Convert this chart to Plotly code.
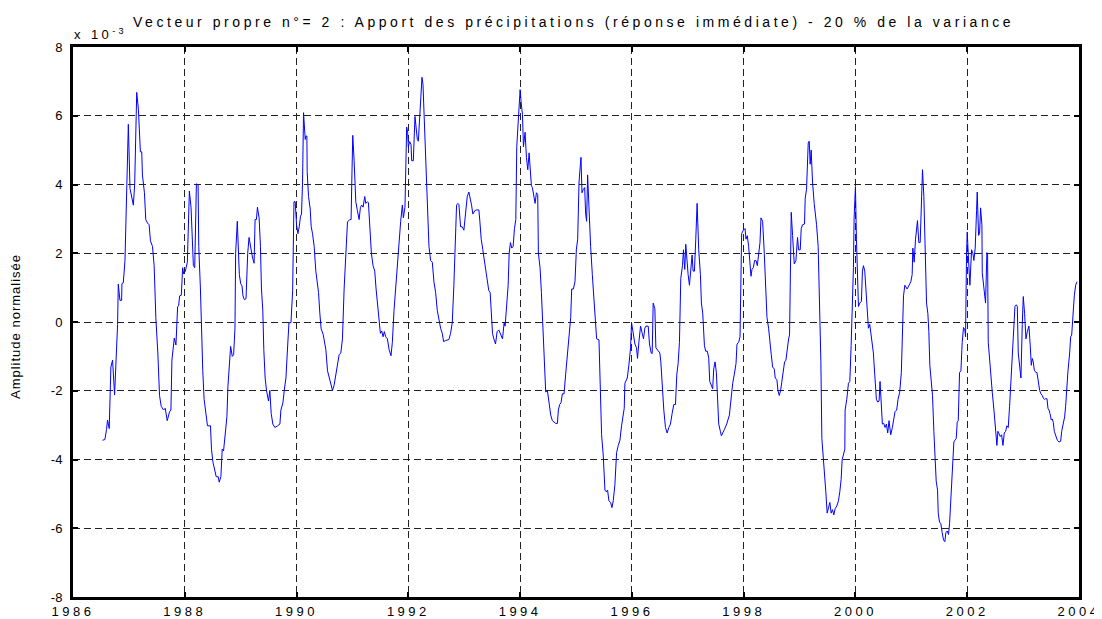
import plotly.graph_objects as go

# ---- data (amplitude in units of 1e-3) ----
t_1986_1990 = [
    1986.528, 1986.570, 1986.600, 1986.618, 1986.648, 1986.678, 1986.708, 1986.744, 1986.798, 1986.810,
    1986.840, 1986.870, 1986.876, 1986.900, 1986.930, 1986.954, 1986.990, 1987.020, 1987.080, 1987.104,
    1987.140, 1987.170, 1987.188, 1987.206, 1987.230, 1987.242, 1987.278, 1987.302, 1987.332, 1987.362,
    1987.386, 1987.422, 1987.452, 1987.482, 1987.518, 1987.548, 1987.578, 1987.620, 1987.650, 1987.686,
    1987.728, 1987.752, 1987.770, 1987.812, 1987.842, 1987.872, 1987.890, 1987.908, 1987.938, 1987.962,
    1987.980, 1988.010, 1988.046, 1988.082, 1988.112, 1988.136, 1988.154, 1988.178, 1988.208, 1988.238,
    1988.250, 1988.280, 1988.298, 1988.322, 1988.346, 1988.376, 1988.406, 1988.460, 1988.478, 1988.502,
    1988.532, 1988.562, 1988.598, 1988.616, 1988.646, 1988.670, 1988.694, 1988.730, 1988.754, 1988.772,
    1988.796, 1988.820, 1988.850, 1988.874, 1988.898, 1988.910, 1988.940, 1988.958, 1988.976, 1989.000,
    1989.024, 1989.042, 1989.066, 1989.096, 1989.126, 1989.150, 1989.180, 1989.210, 1989.240, 1989.258,
    1989.282, 1989.300, 1989.330, 1989.354, 1989.372, 1989.396, 1989.414, 1989.438, 1989.462, 1989.498,
    1989.522, 1989.546, 1989.576, 1989.612, 1989.660, 1989.702, 1989.720, 1989.756, 1989.780, 1989.810,
    1989.834, 1989.864, 1989.900, 1989.930, 1989.954,
]
a_1986_1990 = [
    -3.44, -3.42, -3.13, -2.85, -3.10, -1.31, -1.11, -2.12, -0.07, 1.10,
    0.63, 0.63, 1.12, 1.14, 1.79, 3.55, 5.75, 3.88, 3.40, 4.02,
    6.68, 6.19, 5.26, 4.95, 4.95, 4.28, 3.76, 2.98, 2.88, 2.83,
    2.36, 2.20, 1.64, 0.13, -0.90, -2.14, -2.45, -2.56, -2.51, -2.87,
    -2.61, -2.56, -1.11, -0.47, -0.67, 0.45, 0.47, 0.76, 0.78, 1.58,
    1.40, 1.48, 1.74, 3.81, 3.34, 2.02, 1.64, 1.58, 4.02, 3.99,
    2.20, 0.96, -0.49, -1.42, -2.25, -2.71, -3.02, -3.02, -3.70, -4.06,
    -4.27, -4.50, -4.50, -4.66, -4.50, -3.70, -3.75, -3.18, -2.76, -1.88,
    -1.42, -0.71, -1.00, -0.95, -0.18, 2.00, 2.93, 2.31, 1.38, 1.12,
    1.05, 0.76, 0.65, 0.68, 2.00, 2.46, 2.10, 1.89, 1.71, 2.98,
    2.98, 3.34, 3.03, 2.20, 0.96, 0.34, -0.80, -1.63, -1.99, -2.30,
    -1.99, -2.66, -2.97, -3.07, -3.02, -2.97, -2.56, -2.35, -1.99, -1.63,
    -0.90, -0.02, -0.02, 0.91, 3.50,
]

t_1990_1993 = [
    1989.976, 1990.000, 1990.024, 1990.048, 1990.071, 1990.089, 1990.107, 1990.125, 1990.155, 1990.167,
    1990.185, 1990.190, 1990.214, 1990.244, 1990.262, 1990.286, 1990.315, 1990.345, 1990.393, 1990.417,
    1990.440, 1990.476, 1990.500, 1990.524, 1990.554, 1990.583, 1990.613, 1990.643, 1990.673, 1990.702,
    1990.732, 1990.762, 1990.792, 1990.821, 1990.851, 1990.881, 1990.911, 1990.952, 1990.976, 1990.988,
    1991.006, 1991.030, 1991.060, 1991.089, 1991.119, 1991.143, 1991.167, 1991.190, 1991.220, 1991.238,
    1991.268, 1991.286, 1991.310, 1991.339, 1991.369, 1991.399, 1991.423, 1991.452, 1991.476, 1991.500,
    1991.524, 1991.548, 1991.571, 1991.595, 1991.625, 1991.655, 1991.690, 1991.714, 1991.744, 1991.774,
    1991.804, 1991.833, 1991.863, 1991.893, 1991.911, 1991.940, 1991.952, 1991.970, 1991.988, 1992.000,
    1992.024, 1992.048, 1992.060, 1992.089, 1992.119, 1992.143, 1992.161, 1992.179, 1992.202, 1992.220,
    1992.244, 1992.262, 1992.280, 1992.310, 1992.339, 1992.369, 1992.399, 1992.429, 1992.458, 1992.488,
    1992.518, 1992.548, 1992.577, 1992.607, 1992.631, 1992.667, 1992.726, 1992.756, 1992.786, 1992.815,
    1992.845, 1992.863, 1992.887, 1992.905, 1992.935, 1992.964, 1992.994, 1993.012, 1993.036, 1993.054,
    1993.083, 1993.113, 1993.131, 1993.155, 1993.190, 1993.220, 1993.262, 1993.280, 1993.304, 1993.333,
    1993.363, 1993.393, 1993.417, 1993.440, 1993.464, 1993.488, 1993.506, 1993.530, 1993.560, 1993.589,
    1993.619,
]
a_1990_1993 = [
    3.50, 2.83, 2.57, 2.77, 3.08, 3.14, 4.07, 6.09, 5.31, 5.41,
    5.41, 4.38, 3.65, 3.29, 2.77, 2.57, 2.20, 1.48, 0.86, 0.24,
    -0.20, -0.36, -0.61, -0.80, -1.42, -1.63, -1.83, -1.99, -1.83, -1.57,
    -1.26, -0.95, -0.90, -0.49, 0.96, 2.00, 2.91, 2.98, 2.98, 4.07,
    5.43, 4.69, 3.50, 3.24, 2.98, 3.34, 3.40, 3.34, 3.65, 3.45,
    3.50, 3.47, 2.83, 2.00, 1.64, 1.48, 0.96, 0.50, 0.03, -0.33,
    -0.26, -0.43, -0.28, -0.43, -0.49, -0.80, -0.98, -0.59, 0.34, 1.07,
    1.58, 2.41, 2.93, 3.40, 3.03, 3.34, 4.79, 5.67, 5.52, 5.10,
    5.25, 5.16, 4.69, 4.69, 5.98, 5.67, 5.31, 5.26, 5.93, 6.66,
    7.12, 6.92, 6.14, 4.79, 3.86, 2.20, 1.79, 1.74, 1.17, 0.86,
    0.34, 0.03, -0.18, -0.33, -0.57, -0.54, -0.51, -0.33, -0.02, 1.07,
    2.62, 3.40, 3.45, 3.42, 2.77, 2.77, 2.67, 3.03, 3.29, 3.65,
    3.78, 3.45, 3.40, 3.14, 3.24, 3.26, 3.26, 2.93, 2.41, 2.10,
    1.74, 1.53, 1.17, 0.91, 0.86, 0.34, -0.33, -0.49, -0.64, -0.28,
    -0.23,
]

t_1993_1997 = [
    1993.685, 1993.714, 1993.732, 1993.756, 1993.786, 1993.804, 1993.827, 1993.851, 1993.875, 1993.899,
    1993.923, 1993.940, 1993.970, 1994.000, 1994.018, 1994.042, 1994.060, 1994.089, 1994.113, 1994.137,
    1994.161, 1994.179, 1994.202, 1994.220, 1994.244, 1994.268, 1994.292, 1994.315, 1994.327, 1994.357,
    1994.381, 1994.411, 1994.435, 1994.458, 1994.488, 1994.518, 1994.548, 1994.577, 1994.607, 1994.637,
    1994.667, 1994.685, 1994.708, 1994.732, 1994.756, 1994.786, 1994.815, 1994.845, 1994.875, 1994.905,
    1994.923, 1994.952, 1994.982, 1995.006, 1995.030, 1995.054, 1995.089, 1995.107, 1995.131, 1995.155,
    1995.173, 1995.190, 1995.208, 1995.232, 1995.262, 1995.292, 1995.321, 1995.351, 1995.369, 1995.411,
    1995.429, 1995.458, 1995.488, 1995.518, 1995.542, 1995.565, 1995.589, 1995.619, 1995.643, 1995.667,
    1995.696, 1995.708, 1995.726, 1995.756, 1995.786, 1995.815, 1995.839, 1995.863, 1995.875, 1995.917,
    1995.946, 1995.976, 1995.994, 1996.024, 1996.054, 1996.083, 1996.101, 1996.125, 1996.155, 1996.185,
    1996.208, 1996.232, 1996.250, 1996.292, 1996.315, 1996.345, 1996.363, 1996.381, 1996.411, 1996.429,
    1996.458, 1996.482, 1996.500, 1996.518, 1996.542, 1996.571, 1996.601, 1996.631, 1996.661, 1996.690,
    1996.720, 1996.750, 1996.780, 1996.804, 1996.827, 1996.851, 1996.875, 1996.905, 1996.923, 1996.946,
    1996.964, 1996.988, 1997.006, 1997.030, 1997.054, 1997.077, 1997.095, 1997.119, 1997.143, 1997.167,
    1997.196, 1997.226, 1997.244, 1997.268, 1997.298, 1997.321, 1997.351, 1997.375, 1997.393, 1997.423,
    1997.446, 1997.464, 1997.488, 1997.512, 1997.530, 1997.554, 1997.583, 1997.601,
]
a_1993_1997 = [
    -0.49, -0.02, -0.12, 0.55, 1.07, 2.00, 2.31, 2.15, 2.20, 2.72,
    2.98, 5.10, 6.04, 6.76, 6.40, 6.04, 5.10, 5.52, 4.79, 4.43,
    4.92, 4.48, 3.96, 3.91, 3.65, 3.45, 3.76, 3.71, 2.00, 1.58,
    0.86, -0.18, -1.31, -2.04, -1.99, -2.45, -2.71, -2.87, -2.92, -2.95,
    -2.95, -2.56, -2.40, -2.35, -2.09, -2.09, -1.52, -0.90, -0.38, 0.13,
    0.96, 0.96, 1.17, 2.10, 2.41, 4.07, 4.79, 3.76, 3.86, 3.91,
    3.14, 2.93, 4.28, 3.24, 2.20, 1.38, 0.76, 0.13, -0.49, -0.52,
    -1.83, -3.28, -3.90, -4.89, -4.94, -4.89, -5.20, -5.25, -5.40, -5.20,
    -4.73, -4.42, -3.80, -3.59, -3.44, -3.02, -2.76, -2.51, -1.78, -1.63,
    -1.26, -0.75, -0.02, -0.38, -0.64, -0.75, -1.06, -0.59, -0.12, -0.33,
    -0.49, -0.18, -0.12, -0.12, -0.64, -0.90, -0.92, 0.55, 0.39, -0.75,
    -0.80, -0.85, -0.90, -1.16, -1.88, -2.56, -3.07, -3.23, -3.07, -2.97,
    -2.66, -2.40, -2.40, -1.52, -1.21, -0.59, 1.27, 1.64, 2.10, 1.53,
    2.26, 1.58, 1.38, 1.07, 1.58, 1.95, 1.48, 1.48, 2.41, 3.45,
    2.10, 1.38, 0.55, 0.24, -0.69, -0.85, -0.85, -1.06, -1.73, -1.88,
    -1.94, -1.37, -1.16, -1.47, -2.25, -2.97, -3.18, -3.31,
]

t_1997_2000 = [
    1997.655, 1997.696, 1997.744, 1997.774, 1997.804, 1997.833, 1997.863, 1997.881, 1997.911, 1997.935,
    1997.964, 1997.994, 1998.024, 1998.042, 1998.065, 1998.089, 1998.107, 1998.131, 1998.149, 1998.173,
    1998.196, 1998.220, 1998.244, 1998.268, 1998.292, 1998.310, 1998.339, 1998.369, 1998.399, 1998.417,
    1998.446, 1998.470, 1998.494, 1998.518, 1998.548, 1998.565, 1998.595, 1998.613, 1998.637, 1998.661,
    1998.685, 1998.708, 1998.732, 1998.756, 1998.780, 1998.804, 1998.821, 1998.833, 1998.851, 1998.875,
    1998.905, 1998.935, 1998.964, 1998.982, 1999.012, 1999.030, 1999.054, 1999.089, 1999.101, 1999.125,
    1999.143, 1999.155, 1999.173, 1999.190, 1999.208, 1999.232, 1999.262, 1999.304, 1999.333, 1999.351,
    1999.381, 1999.399, 1999.429, 1999.452, 1999.470, 1999.494, 1999.518, 1999.542, 1999.565, 1999.589,
    1999.613, 1999.637, 1999.667, 1999.696, 1999.720, 1999.744, 1999.762, 1999.786, 1999.810, 1999.815,
    1999.845, 1999.875, 1999.899, 1999.923, 1999.946, 1999.964, 1999.976, 2000.000, 2000.018, 2000.042,
    2000.054, 2000.077, 2000.107, 2000.125, 2000.143, 2000.167, 2000.185, 2000.208, 2000.232, 2000.256,
    2000.280, 2000.304, 2000.321, 2000.345, 2000.375, 2000.399, 2000.423, 2000.440, 2000.458, 2000.482,
    2000.506, 2000.530, 2000.554, 2000.577, 2000.601, 2000.631, 2000.661, 2000.685, 2000.708, 2000.738,
    2000.762, 2000.792, 2000.821,
]
a_1997_2000 = [
    -3.13, -2.97, -2.71, -2.14, -1.78, -1.52, -1.21, -0.64, -0.59, -0.43,
    2.57, 2.67, 2.72, 2.41, 2.51, 2.20, 1.69, 1.33, 1.53, 1.58,
    1.79, 1.79, 1.64, 2.00, 2.31, 3.03, 2.93, 2.00, 0.96, 0.13,
    -0.18, -0.69, -0.95, -1.31, -1.37, -1.63, -1.68, -1.99, -2.14, -1.99,
    -1.68, -1.42, -1.16, -1.11, -0.69, -0.49, -0.38, 0.96, 3.19, 2.52,
    1.69, 1.79, 2.46, 2.10, 2.10, 2.72, 2.83, 2.85, 3.60, 3.86,
    4.59, 5.21, 5.26, 4.59, 5.00, 4.07, 3.45, 2.83, 2.20, 0.96,
    -1.11, -3.39, -4.01, -4.37, -4.94, -5.56, -5.35, -5.25, -5.56, -5.46,
    -5.61, -5.43, -5.35, -5.20, -4.94, -4.58, -4.01, -3.80, -3.70, -2.56,
    -2.25, -1.78, -1.73, -0.69, 0.34, 1.58, 3.03, 3.94, 2.41, 1.07,
    0.45, 0.55, 0.60, 1.48, 1.64, 1.48, 0.96, 0.34, -0.18, -0.07,
    -0.38, -0.59, -0.90, -1.52, -2.25, -2.33, -2.30, -1.73, -2.35, -2.97,
    -2.95, -3.07, -2.97, -3.23, -2.87, -3.28, -3.07, -2.76, -2.61, -2.56,
    -2.25, -2.04, -1.47,
]

t_2000_2004 = [
    2000.860, 2000.884, 2000.925, 2000.955, 2000.991, 2001.015, 2001.027, 2001.051, 2001.075, 2001.110,
    2001.134, 2001.158, 2001.182, 2001.200, 2001.224, 2001.254, 2001.272, 2001.296, 2001.313, 2001.331,
    2001.355, 2001.379, 2001.403, 2001.421, 2001.445, 2001.469, 2001.481, 2001.504, 2001.528, 2001.552,
    2001.576, 2001.600, 2001.618, 2001.642, 2001.666, 2001.684, 2001.701, 2001.719, 2001.743, 2001.761,
    2001.779, 2001.803, 2001.821, 2001.839, 2001.863, 2001.887, 2001.910, 2001.934, 2001.958, 2001.970,
    2001.988, 2002.000, 2002.018, 2002.048, 2002.078, 2002.101, 2002.119, 2002.143, 2002.167, 2002.179,
    2002.203, 2002.221, 2002.239, 2002.263, 2002.269, 2002.299, 2002.328, 2002.352, 2002.364, 2002.376,
    2002.400, 2002.424, 2002.448, 2002.478, 2002.507, 2002.531, 2002.549, 2002.567, 2002.591, 2002.615,
    2002.639, 2002.663, 2002.687, 2002.710, 2002.734, 2002.758, 2002.782, 2002.806, 2002.836, 2002.854,
    2002.878, 2002.896, 2002.913, 2002.937, 2002.961, 2002.985, 2003.003, 2003.027, 2003.051, 2003.075,
    2003.104, 2003.128, 2003.146, 2003.164, 2003.182, 2003.200, 2003.230, 2003.248, 2003.272, 2003.296,
    2003.319, 2003.343, 2003.367, 2003.385, 2003.403, 2003.427, 2003.445, 2003.463, 2003.481, 2003.504,
    2003.522, 2003.540, 2003.558, 2003.582, 2003.612, 2003.642, 2003.672, 2003.690, 2003.713, 2003.743,
    2003.761, 2003.779, 2003.803, 2003.833, 2003.851, 2003.869, 2003.881, 2003.899, 2003.916, 2003.940,
    2003.964,
]
a_2000_2004 = [
    0.76, 1.07, 0.96, 1.07, 1.17, 1.38, 2.15, 1.74, 2.41, 2.95,
    2.31, 2.31, 3.45, 4.43, 3.65, 2.00, 0.55, 0.24, -0.28, -1.26,
    -1.73, -2.14, -3.18, -4.01, -4.63, -4.89, -5.56, -5.82, -5.87, -6.13,
    -6.34, -6.39, -6.13, -6.08, -6.18, -5.87, -5.25, -4.63, -4.01, -3.49,
    -3.44, -3.39, -2.92, -2.87, -1.47, -1.42, -0.59, -0.16, -0.23, -0.43,
    2.00, 2.62, 2.00, 1.07, 2.10, 2.00, 1.79, 2.15, 3.24, 3.78,
    2.52, 2.57, 3.32, 2.83, 1.43, 0.96, 0.55, 2.02, 2.00, -0.59,
    -1.11, -1.78, -2.04, -2.56, -3.13, -3.59, -3.18, -3.23, -3.33, -3.28,
    -3.59, -3.23, -3.18, -3.02, -3.07, -2.45, -1.73, -0.90, -0.07, 0.45,
    0.50, 0.45, -0.90, -1.21, -1.63, -0.07, 0.74, 0.24, -0.49, -0.28,
    -0.12, -0.69, -1.26, -1.06, -1.16, -1.40, -1.47, -1.47, -1.83, -1.99,
    -2.09, -2.14, -2.23, -2.25, -2.23, -2.23, -2.51, -2.56, -2.66, -2.85,
    -2.82, -2.92, -3.18, -3.33, -3.44, -3.49, -3.47, -3.18, -3.02, -2.76,
    -2.45, -1.83, -1.42, -0.90, -0.43, -0.38, -0.07, 0.45, 0.76, 1.07,
    1.17,
]

x_tick_years = [1986, 1988, 1990, 1992, 1994, 1996, 1998, 2000, 2002, 2004]
y_tick_values = [-8, -6, -4, -2, 0, 2, 4, 6, 8]
y_tick_labels = ["-8", "-6", "-4", "-2", "0", "2", "4", "6", "8"]

title_text = "Vecteur propre n°= 2 : Apport des précipitations (réponse immédiate) - 20 % de la variance"
multiplier_text = "x 10<sup>-3</sup>"
y_title = "Amplitude normalisée"

years = t_1986_1990 + t_1990_1993 + t_1993_1997 + t_1997_2000 + t_2000_2004
amplitude = a_1986_1990 + a_1990_1993 + a_1993_1997 + a_1997_2000 + a_2000_2004


def spaced(s, px, size):
    return f'<span style="letter-spacing:{px}px;font-size:{size}px">{s}</span>'


FONT = "Liberation Sans, Arial, Helvetica, sans-serif"

fig = go.Figure(
    go.Scatter(
        x=years, y=amplitude, mode="lines",
        line=dict(color="#0000FF", width=1),
        hoverinfo="skip",
    )
)

# the page body has an 8px default margin: the figure is sized to fill the rest of the window
OFF = 8
W, H = 1102 - OFF, 619 - OFF
L, R, T, B = 73 - OFF, 23, 47 - OFF, 22
pw, ph = W - L - R, H - T - B

fig.update_layout(
    width=W, height=H,
    margin=dict(l=L, r=R, t=T, b=B),
    paper_bgcolor="white", plot_bgcolor="white",
    showlegend=False,
    font=dict(family=FONT, size=13, color="black"),
)

axis_common = dict(
    showgrid=True, gridcolor="#222222", griddash="7px,4px", gridwidth=1,
    showline=True, linecolor="black", linewidth=3, mirror="ticks",
    ticks="inside", ticklen=5, tickwidth=2, tickcolor="black",
    zeroline=False, automargin=False,
    tickfont=dict(family=FONT, size=13, color="black"),
)

fig.update_xaxes(
    range=[1986, 2004], tickmode="array", tickvals=x_tick_years,
    ticktext=[spaced(str(v), 3.5, 13) for v in x_tick_years], **axis_common,
)
fig.update_yaxes(
    range=[-8, 8], tickmode="array", tickvals=y_tick_values,
    ticktext=y_tick_labels, ticklabelstandoff=5, **axis_common,
)


# annotation positions given in window pixels, converted to paper units
def px_x(sx):
    return (sx - OFF - L) / pw


def px_y(sy):
    return (H - B - (sy - OFF)) / ph


fig.add_annotation(
    text=spaced(title_text, 3.55, 14), xref="paper", yref="paper", align="left",
    x=px_x(131), y=px_y(22), xanchor="left", yanchor="middle",
    showarrow=False, font=dict(family=FONT, size=14, color="black"),
)
fig.add_annotation(
    text=spaced(multiplier_text, 3.4, 13), xref="paper", yref="paper", align="left",
    x=px_x(72), y=px_y(34), xanchor="left", yanchor="middle",
    showarrow=False, font=dict(family=FONT, size=13, color="black"),
)
fig.add_annotation(
    text=spaced(y_title, 1, 13), xref="paper", yref="paper", textangle=-90,
    x=px_x(16), y=px_y(327), xanchor="center", yanchor="middle",
    showarrow=False, font=dict(family=FONT, size=13, color="black"),
)

fig.write_html("out.html")
